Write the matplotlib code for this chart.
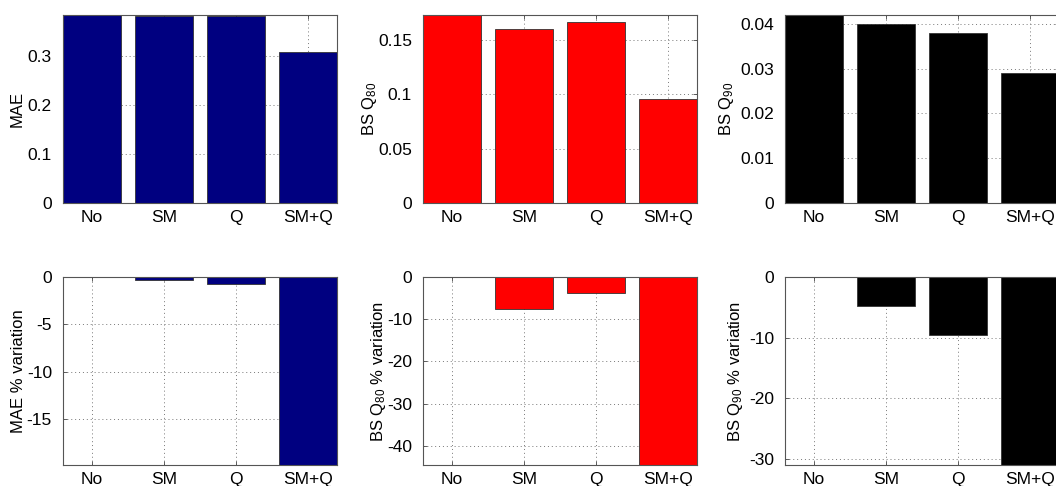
import matplotlib
matplotlib.use("Agg")
import matplotlib.pyplot as plt
from matplotlib.ticker import FuncFormatter

plt.rcParams["font.family"] = ["Liberation Sans", "DejaVu Sans"]
plt.rcParams["mathtext.default"] = "regular"
plt.rcParams["axes.unicode_minus"] = False

# Data
categories = ["No", "SM", "Q", "SM+Q"]
mae = [0.3840, 0.3829, 0.3811, 0.3080]
bs80 = [0.1730, 0.1600, 0.1664, 0.0960]
bs90 = [0.0420, 0.0400, 0.0380, 0.0290]
mae_pct = [0.0, -0.28, -0.75, -19.8]
bs80_pct = [0.0, -7.5, -3.8, -44.5]
bs90_pct = [0.0, -4.8, -9.5, -31.0]

NAVY = "#000080"
RED = "#ff0000"
BLACK = "#000000"

W, H = 1056, 486
fig = plt.figure(figsize=(W / 100, H / 100), dpi=100)

# panel boxes in pixels: (left, top, right, bottom)
cols = [(63, 337), (423, 697), (785, 1059)]
rows = [(15, 203), (277, 465)]
PANEL_W = 274


def make_ax(col, row):
    l, r = cols[col]
    t, b = rows[row]
    return fig.add_axes([l / W, 1 - b / H, (r - l) / W, (b - t) / H])


fmt = FuncFormatter(lambda v, p: "%g" % round(v, 6))


def style(ax, yticks, ylim):
    ax.set_xlim(0.6, 4.4)
    ax.set_ylim(*ylim)
    ax.set_xticks(range(1, 5))
    ax.set_xticklabels(categories)
    ax.set_yticks(yticks)
    ax.yaxis.set_major_formatter(fmt)
    ax.set_axisbelow(True)
    ax.grid(True, linestyle=(0, (1, 3)), color="#777777", linewidth=0.7)
    ax.tick_params(direction="in", length=3, width=0.6, color="#444444",
                   labelsize=12.5, top=True, right=True)
    ax.tick_params(axis="y", pad=8)
    ax.tick_params(axis="x", pad=5)
    for s in ax.spines.values():
        s.set_color("#555555")
        s.set_linewidth(0.8)


# (col, row, values, colour, ylabel, yticks, ylim, ylabel right edge x in px)
panels = [
    (0, 0, mae, NAVY, "MAE", [0, 0.1, 0.2, 0.3], (0, 0.384), 25),
    (1, 0, bs80, RED, "BS Q$_{80}$", [0, 0.05, 0.1, 0.15], (0, 0.173), 379),
    (2, 0, bs90, BLACK, "BS Q$_{90}$", [0, 0.01, 0.02, 0.03, 0.04], (0, 0.042), 736),
    (0, 1, mae_pct, NAVY, "MAE % variation", [-15, -10, -5, 0], (-19.8, 0), 26),
    (1, 1, bs80_pct, RED, "BS Q$_{80}$ % variation", [-40, -30, -20, -10, 0], (-44.5, 0), 388),
    (2, 1, bs90_pct, BLACK, "BS Q$_{90}$ % variation", [-30, -20, -10, 0], (-31.0, 0), 745),
]

for col, row, vals, color, label, yt, yl, lx in panels:
    ax = make_ax(col, row)
    ax.bar(range(1, 5), vals, width=0.8, color=color,
           edgecolor="#333333", linewidth=0.6)
    style(ax, yt, yl)
    ax.set_ylabel(label, fontsize=12)
    ax.yaxis.set_label_coords((lx - cols[col][0]) / PANEL_W, 0.5)

fig.savefig("out.png", dpi=100)
